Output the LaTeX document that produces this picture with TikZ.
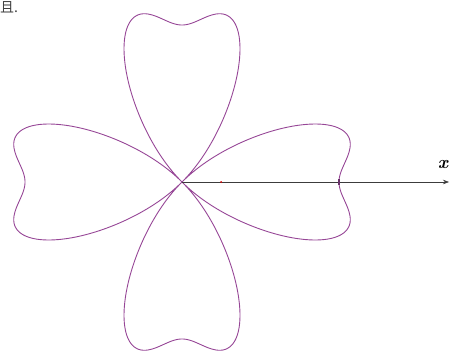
\documentclass[tikz,border=0pt]{standalone}
\usepackage{fontspec}
\newfontfamily\cjk{Noto Sans CJK SC}
\usetikzlibrary{arrows.meta}
\definecolor{curvecol}{RGB}{150,70,150}
\definecolor{axiscol}{RGB}{60,60,60}
\tikzset{
  flower/.style={curvecol, line width=0.9pt},
  axisline/.style={axiscol, line width=0.6pt, -{Stealth[length=6pt,width=4.5pt]}},
  dotmark/.style={circle, fill=red!85!black, inner sep=0pt, minimum size=2pt},
  tickmark/.style={rectangle, fill=curvecol!70!black, inner sep=0pt, minimum width=2pt, minimum height=6pt},
}
\begin{document}
\begin{tikzpicture}[x=1pt,y=1pt]
\useasboundingbox (0,0) rectangle (452,-356);
\coordinate (O) at (182,-182);
\begin{scope}[shift={(O)}]
\draw[flower] plot[domain=0:360, samples=721, smooth, variable=\t]
  ({157*abs(cos(2*\t))*(1+0.36*pow(sin(4*\t),2))*cos(\t)},
   {157*abs(cos(2*\t))*(1+0.36*pow(sin(4*\t),2))*sin(\t)});
\end{scope}
\coordinate (xend) at (449,-182);
\draw[axisline] (O) -- (xend);
\node[dotmark] (p) at (221,-182) {};
\node[tickmark] (q) at (339,-182) {};
\node[font=\bfseries\itshape\fontsize{18}{18}\selectfont, inner sep=0pt] (xl) at (443,-165) {x};
\node[anchor=north west, inner sep=0pt, font=\cjk\fontsize{14}{14}\selectfont, text=black!75] (t) at (0,-1) {且.};
\end{tikzpicture}
\end{document}
